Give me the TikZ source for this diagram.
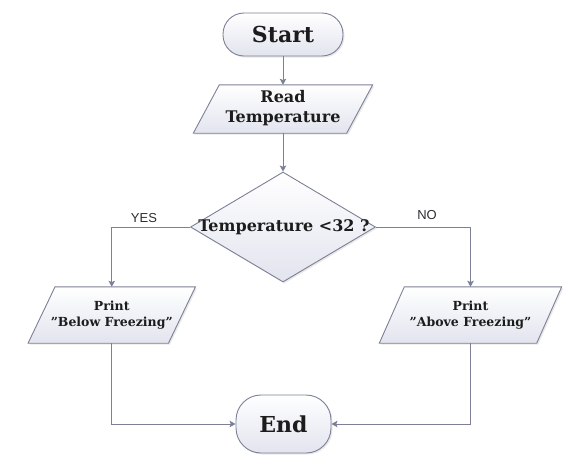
\documentclass[tikz,border=0pt]{standalone}
\usepackage{fontspec}
\setmainfont{DejaVu Serif}
\newfontfamily\labfont{Liberation Sans}
\usetikzlibrary{shapes.geometric,shadows,arrows.meta}
\definecolor{edgec}{RGB}{124,128,150}
\definecolor{fillb}{RGB}{226,228,238}
\definecolor{txtc}{RGB}{28,28,28}
\definecolor{labc}{RGB}{45,45,50}
\begin{document}
\begin{tikzpicture}[x=1pt,y=-1pt,
  box/.style={draw=edgec, line width=0.9pt, top color=white, bottom color=fillb,
    drop shadow={shadow xshift=1.5pt,shadow yshift=-1.5pt,opacity=0.18}},
  term/.style={box, rectangle, text=txtc, font=\bfseries\fontsize{22}{26}\selectfont},
  holder/.style={rectangle, inner sep=0pt, draw=none},
  iotxt/.style={align=center, text=txtc, inner sep=0pt},
  conn/.style={draw=edgec, line width=0.9pt, -{Stealth[length=6pt,width=6.5pt,inset=1.2pt]}},
  lab/.style={font=\labfont\fontsize{13}{15}\selectfont, text=labc, inner sep=0pt}
]
\useasboundingbox (0,0) rectangle (571,466);

% Start
\node[term, minimum width=120pt, minimum height=43pt, rounded corners=21pt] (start) at (283,34.5) {Start};

% Read Temperature
\node[holder, minimum width=153pt, minimum height=48pt] (read) at (283,109) {};
\path[box] ([xshift=13pt]read.north west) -- ([xshift=13pt]read.north east)
  -- ([xshift=-13pt]read.south east) -- ([xshift=-13pt]read.south west) -- cycle;
\node[iotxt, font=\bfseries\fontsize{16}{20}\selectfont] (readtxt) at ([yshift=1pt]read.center) {Read\\Temperature};

% Decision
\node[box, diamond, minimum width=185pt, minimum height=110pt, inner sep=0pt] (dec) at (283,227) {};
\node[iotxt, font=\bfseries\fontsize{16}{20}\selectfont] (dectxt) at (284,227) {Temperature <32 ?};

% Print Below
\node[holder, minimum width=140pt, minimum height=56pt] (below) at (111.75,315) {};
\path[box] ([xshift=13.5pt]below.north west) -- ([xshift=13.5pt]below.north east)
  -- ([xshift=-13.5pt]below.south east) -- ([xshift=-13.5pt]below.south west) -- cycle;
\node[iotxt, font=\bfseries\fontsize{12.5}{15.5}\selectfont] (belowtxt) at (below.center) {Print\\\char34 Below Freezing\char34};

% Print Above
\node[holder, minimum width=157pt, minimum height=56pt] (above) at (470.5,315) {};
\path[box] ([xshift=12.5pt]above.north west) -- ([xshift=12.5pt]above.north east)
  -- ([xshift=-12.5pt]above.south east) -- ([xshift=-12.5pt]above.south west) -- cycle;
\node[iotxt, font=\bfseries\fontsize{12.5}{15.5}\selectfont] (abovetxt) at (above.center) {Print\\\char34 Above Freezing\char34};

% End
\node[term, minimum width=95pt, minimum height=58pt, rounded corners=25pt] (end) at (283.5,424) {End};

% Connectors
\draw[conn] (start.south) -- (start.south |- read.north);
\draw[conn] (read.south) -- (dec.north);
\draw[conn] (dec.west) -| (below.north);
\draw[conn] (dec.east) -| (above.north);
\draw[conn] (below.south) |- (end.west);
\draw[conn] (above.south) |- (end.east);

% Labels
\node[lab] (yes) at (144,218) {YES};
\node[lab] (no) at (427,215) {NO};
\end{tikzpicture}
\end{document}
